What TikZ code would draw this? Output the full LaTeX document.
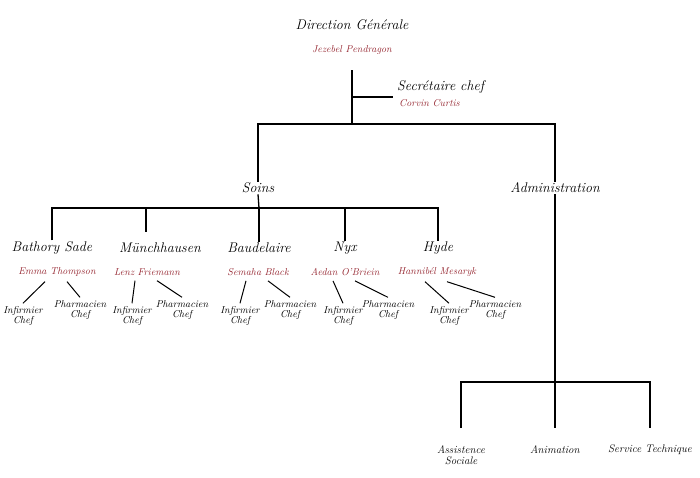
\documentclass[tikz,border=0pt]{standalone}
\usetikzlibrary{positioning}
\definecolor{namered}{RGB}{150,40,50}
\begin{document}
\begin{tikzpicture}[x=1pt,y=-1pt,
  unit/.style={font=\itshape\fontsize{14}{14}\selectfont, inner sep=1pt},
  person/.style={font=\itshape\fontsize{10}{10}\selectfont, text=namered, inner sep=1pt},
  staff/.style={font=\itshape\fontsize{10}{10}\selectfont, align=center, inner sep=1pt},
  link/.style={line width=1.3pt}
  ]
  \useasboundingbox (0,0) rectangle (700,477);
  % direction
  \node[unit] (dg) at (352,25) {Direction Générale};
  \node[person] (dgn) at (352,50) {Jezebel Pendragon};
  \node[unit, anchor=west] (sec) at (396,87) {Secrétaire chef};
  \node[person, anchor=west] (secn) at (398,103) {Corvin Curtis};
  \coordinate (top) at (352,70);
  \coordinate (split) at (352,124);
  \draw[link] (top) -- (split);
  \draw[link] (352,97) -- (393,97);
  % two branches
  \node[unit] (soins) at (258,188) {Soins};
  \node[unit] (admin) at (555,188) {Administration};
  \draw[link] (soins.north) |- (split) -| (admin.north);
  % soins services
  \coordinate (sbar) at (259,208);
  \draw[link] (soins.south) -- (sbar);
  \node[unit] (bath) at (52,248) {Bathory Sade};
  \node[unit] (munch) at (160,248) {Münchhausen};
  \node[unit] (baud) at (259,248) {Baudelaire};
  \node[unit] (nyx) at (345,248) {Nyx};
  \node[unit] (hyde) at (438,248) {Hyde};
  \draw[link] (bath.north) |- (sbar) -| (hyde.north);
  \draw[link] (146,208) -- (146,232);
  \draw[link] (sbar) -- (baud.north);
  \draw[link] (nyx.north) -- (nyx.north |- sbar);
  \node[person] (bathn) at (57,272) {Emma Thompson};
  \node[person] (munchn) at (147,272) {Lenz Friemann};
  \node[person] (baudn) at (258,272) {Semaha Black};
  \node[person] (nyxn) at (345,272) {Aedan O'Briein};
  \node[person] (hyden) at (437,272) {Hannibél Mesaryk};
  % staff under each service
  \foreach \nm/\ix/\px in {bathn/23/80, munchn/132/182, baudn/240/290, nyxn/343/388, hyden/449/495}{
    \node[staff] (\nm-inf) at (\ix,316) {Infirmier\\Chef};
    \node[staff] (\nm-pha) at (\px,310) {Pharmacien\\Chef};
    \draw[link, line width=1pt] ([xshift=-12pt,yshift=-4pt]\nm.south) -- ([yshift=2pt]\nm-inf.north);
    \draw[link, line width=1pt] ([xshift=10pt,yshift=-4pt]\nm.south) -- ([yshift=2pt]\nm-pha.north);
  }
  % administration services
  \coordinate (abar) at (555,382);
  \draw[link] (admin.south) -- (abar);
  \node[staff, font=\itshape\fontsize{11}{11}\selectfont] (asso) at (461,455) {Assistence\\Sociale};
  \node[staff, font=\itshape\fontsize{11}{11}\selectfont] (anim) at (555,450) {Animation};
  \node[staff, font=\itshape\fontsize{11}{11}\selectfont] (tech) at (650,450) {Service Technique};
  \draw[link] (461,428) |- (abar) -| (650,428);
  \draw[link] (abar) -- (555,428);
\end{tikzpicture}
\end{document}
